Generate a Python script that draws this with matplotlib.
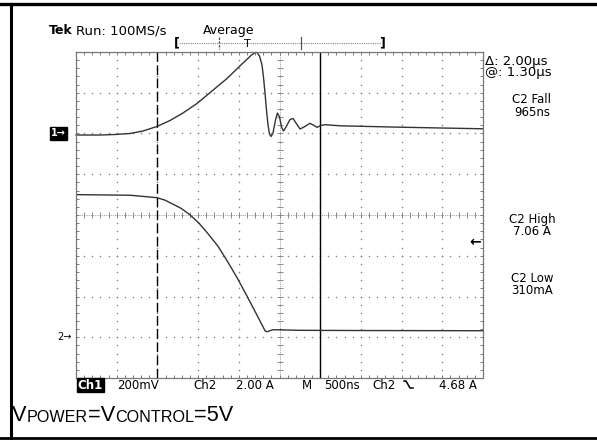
import numpy as np
import matplotlib
matplotlib.use('Agg')
import matplotlib.pyplot as plt
from matplotlib.lines import Line2D
from matplotlib.transforms import blended_transform_factory

# 示波器设置
time_per_div = 0.5      # µs/div
ch1_per_div = 200.0     # mV/div
ch2_per_div = 2.0       # A/div
ch1_ground = 6.0        # 刻度格 (从下往上)
ch2_ground = 1.0
trig_level = 4.68       # A
cursors = [1.0, 3.0]    # µs

# 通道1 电压 (mV)
ch1_t = [0.000, 0.295, 0.479, 0.663, 0.823, 0.995, 1.155, 1.314, 1.486, 1.671, 1.855,
         2.039, 2.150, 2.199, 2.224, 2.254, 2.285, 2.303, 2.322, 2.340, 2.359, 2.377,
         2.396, 2.420, 2.451, 2.475, 2.500, 2.525, 2.549, 2.580, 2.629, 2.666, 2.703,
         2.752, 2.801, 2.875, 2.924, 2.961, 3.010, 3.059, 3.243, 3.980, 5.000]
ch1_mv = [-7.4, -7.4, -4.9, 0.0, 12.3, 34.4, 63.8, 100.6, 147.2, 208.6, 269.9,
          341.1, 382.8, 397.5, 397.5, 380.4, 336.9, 277.3, 198.8, 115.3, 41.7, -2.5,
          -14.7, 2.5, 66.3, 100.6, 81.0, 31.9, 12.3, 31.9, 68.7, 73.6, 51.5,
          22.1, 31.9, 50.1, 39.3, 30.4, 39.3, 43.2, 37.8, 30.9, 23.1]

# 通道2 电流 (A)
ch2_t = [0.000, 0.663, 0.995, 1.093, 1.192, 1.290, 1.400, 1.511, 1.622, 1.744, 1.855,
         1.978, 2.101, 2.211, 2.285, 2.322, 2.346, 2.420, 2.752, 3.500, 5.000]
ch2_a = [7.00, 6.97, 6.85, 6.73, 6.53, 6.33, 6.01, 5.60, 5.08, 4.47, 3.76,
         2.93, 2.02, 1.18, 0.61, 0.32, 0.27, 0.37, 0.34, 0.33, 0.32]

W, H = 597, 440
fig = plt.figure(figsize=(W / 100, H / 100), dpi=100)
plt.rcParams['font.family'] = ['DejaVu Sans']


def px(x, y):
    return x / W, 1 - y / H


# 外框
for (x0, y0), (x1, y1), lw in [((0, 4), (W, 4), 2.4), ((11, 4), (11, 438), 2.2),
                                ((0, 438), (W, 438), 2.0)]:
    a, b = px(x0, y0)
    c, d = px(x1, y1)
    fig.add_artist(Line2D([a, c], [b, d], color='black', lw=lw))

# 刻度区
gx0, gx1, gy0, gy1 = 76, 483, 52, 378
ax = fig.add_axes([gx0 / W, 1 - gy1 / H, (gx1 - gx0) / W, (gy1 - gy0) / H])
ax.set_xlim(0, 10)
ax.set_ylim(0, 8)
for s in ax.spines.values():
    s.set_color('#777777')
    s.set_linewidth(0.9)
ax.set_xticks(np.arange(0, 10.01, 1))
ax.set_yticks(np.arange(0, 8.01, 1))
ax.set_xticks(np.arange(0, 10.01, 0.2), minor=True)
ax.set_yticks(np.arange(0, 8.01, 0.2), minor=True)
ax.tick_params(which='both', direction='in', length=2.5, width=0.7, color='#777777',
               top=True, right=True, labelbottom=False, labelleft=False)

# 网格点
for i in range(1, 10):
    if i == 5:
        continue
    yy = np.arange(0, 8.01, 0.2)
    ax.scatter(np.full_like(yy, i), yy, s=1.2, color='#808080', lw=0)
for j in range(1, 8):
    if j == 4:
        continue
    xx = np.arange(0, 10.01, 0.2)
    ax.scatter(xx, np.full_like(xx, j), s=1.2, color='#808080', lw=0)
# 中心线
ax.axhline(4, color='#888888', lw=0.6, ls=(0, (1, 1.2)))
ax.axvline(5, color='#888888', lw=0.6, ls=(0, (1, 1.2)))
xx = np.arange(0.2, 10, 0.2)
ax.plot(xx, np.full_like(xx, 4), ls='none', marker='|', ms=4, mew=0.7, color='#888888')
yy = np.arange(0.2, 8, 0.2)
ax.plot(np.full_like(yy, 5), yy, ls='none', marker='_', ms=4, mew=0.7, color='#888888')

# 光标
ax.axvline(cursors[0] / time_per_div, color='black', lw=1.0, dashes=(7, 2.5))
ax.axvline(cursors[1] / time_per_div, color='black', lw=1.0)

# 波形
ax.plot(np.array(ch1_t) / time_per_div, np.array(ch1_mv) / ch1_per_div + ch1_ground,
        color='#333333', lw=1.0, clip_on=False)
ax.plot(np.array(ch2_t) / time_per_div, np.array(ch2_a) / ch2_per_div + ch2_ground,
        color='#333333', lw=1.0)

# 通道标记
bt = blended_transform_factory(ax.transAxes, ax.transData)
ax.text(-0.025, ch1_ground, '1\u2192', transform=bt, ha='right', va='center', color='white',
        fontsize=7, fontweight='bold',
        bbox=dict(boxstyle='square,pad=0.12', fc='black', ec='black'))
ax.text(-0.01, ch2_ground, '2\u2192', transform=bt, ha='right', va='center', color='black',
        fontsize=7)
ax.text(0.995, trig_level / ch2_per_div + ch2_ground, '\u2190', transform=bt, ha='right',
        va='center', fontsize=10, fontweight='bold')

# 顶部
fig.text(*px(49, 34), 'Tek', fontsize=9, fontweight='bold', va='baseline')
fig.text(*px(76, 34), 'Run: 100MS/s', fontsize=9.5, va='baseline')
fig.text(*px(229, 34), 'Average', fontsize=9, ha='center', va='baseline')

# 记录条
a, b = px(179, 43)
c, _ = px(381, 43)
fig.add_artist(Line2D([a, c], [b, b], color='#888888', lw=0.8, ls=(0, (1, 1))))
fig.text(*px(177, 43), '[', fontsize=9, fontweight='bold', ha='center', va='center')
fig.text(*px(382, 43), ']', fontsize=9, fontweight='bold', ha='center', va='center')
fig.text(*px(247, 44), 'T', fontsize=8, ha='center', va='center')
for xt, sty in [(219, (0, (2, 1))), (301, '-')]:
    a, b = px(xt, 37)
    _, d = px(xt, 49)
    fig.add_artist(Line2D([a, a], [b, d], color='#555555', lw=0.9, ls=sty))

# 右侧读数
fig.text(*px(485, 67), '\u0394: 2.00\u00b5s\n@: 1.30\u00b5s', fontsize=9.5, va='center',
         linespacing=0.85)
for (txt, y) in [('C2 Fall\n965ns', 106), ('C2 High\n7.06 A', 225.5),
                 ('C2 Low\n310mA', 284.5)]:
    fig.text(*px(532, y), txt, fontsize=8.5, ha='center', va='center',
             multialignment='center', linespacing=0.95)

# 底部
fig.text(*px(90.5, 385), 'Ch1', fontsize=8.5, fontweight='bold', ha='center', va='center',
         color='white', bbox=dict(boxstyle='square,pad=0.05', fc='black', ec='black'))
for (txt, xc) in [('200mV', 138), ('Ch2', 205), ('2.00 A', 255), ('M', 307), ('500ns', 342),
                  ('Ch2', 384), ('4.68 A', 458)]:
    fig.text(*px(xc, 385), txt, fontsize=8.5, ha='center', va='center')
# 下降沿符号
sx = [404, 406, 410, 413]
sy = [381, 381, 388, 388]
fig.add_artist(Line2D([v / W for v in sx], [1 - v / H for v in sy], color='black', lw=1.1))

# 说明文字
renderer = fig.canvas.get_renderer()
x = 12
for txt, size, base in [('V', 15.7, 420.7), ('POWER', 11.6, 421.7), ('=V', 15.7, 420.7),
                        ('CONTROL', 11.6, 421.7), ('=5V', 15.7, 420.7)]:
    t = fig.text(*px(x, base), txt, fontsize=size, family='Liberation Sans', va='baseline')
    x += t.get_window_extent(renderer).width

fig.savefig('out.png', dpi=100)
